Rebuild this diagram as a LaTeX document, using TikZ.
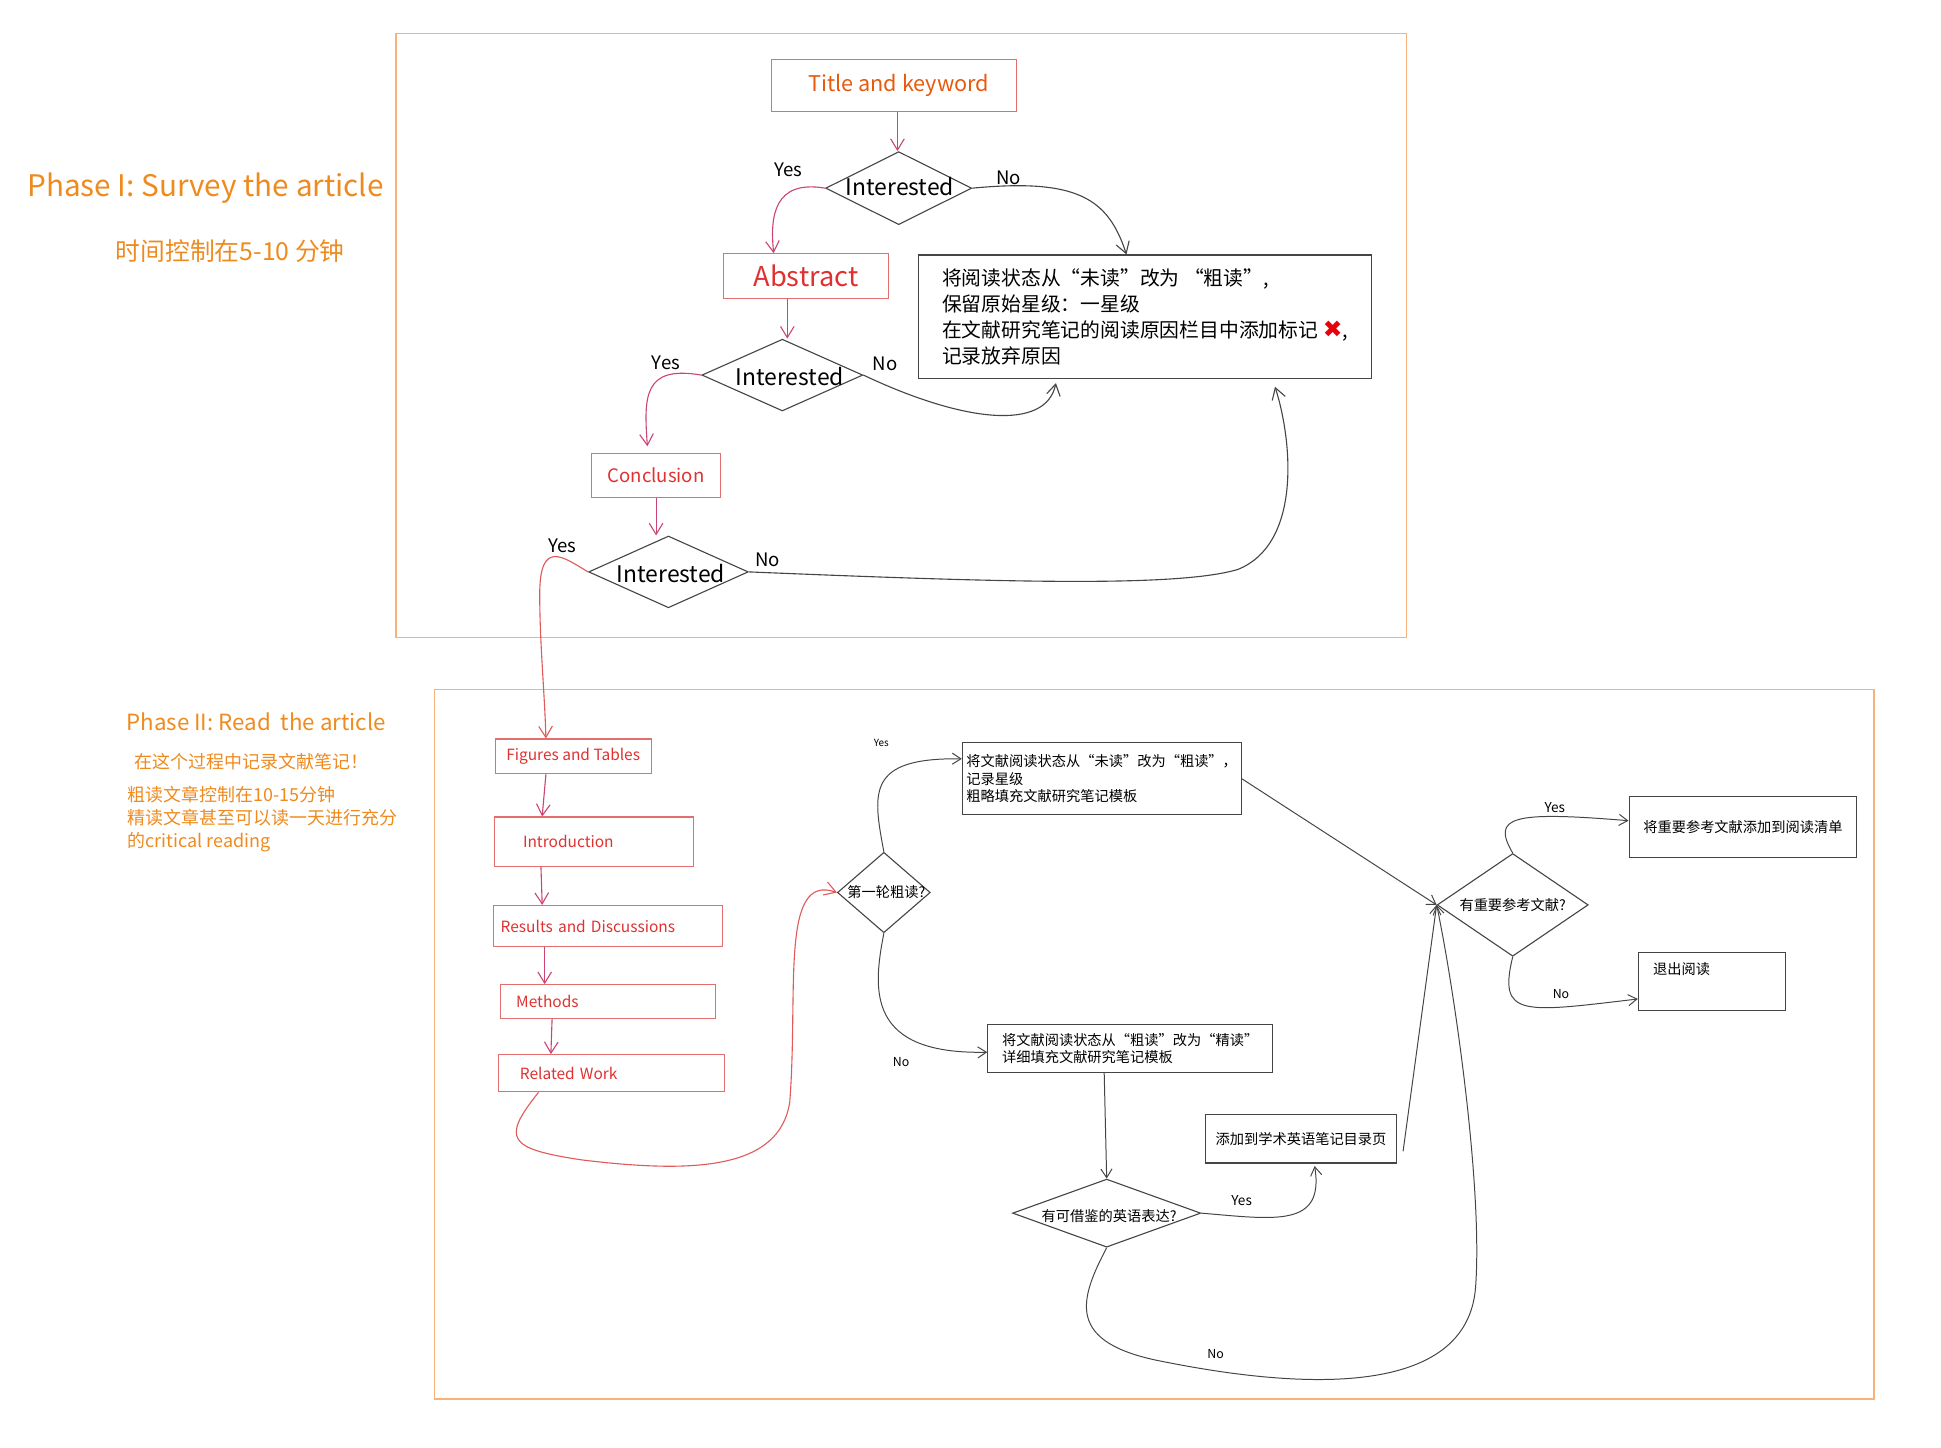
\documentclass[tikz,border=0pt]{standalone}
\usepackage{fontspec}
\setmainfont{Noto Sans CJK SC}
\newfontfamily\symfont{DejaVu Sans}
\usetikzlibrary{shapes.geometric,arrows.meta}

\definecolor{frameorange}{HTML}{F7B27C}
\definecolor{phaseorange}{HTML}{EE8A1E}
\definecolor{boxred}{HTML}{E36E6E}
\definecolor{textred}{HTML}{E03131}
\definecolor{titlered}{HTML}{E8590C}
\definecolor{flowpink}{HTML}{CC4477}
\definecolor{flowred}{HTML}{E05A5A}
\definecolor{linegrey}{HTML}{454545}
\definecolor{crossred}{HTML}{E8000B}

\tikzset{
  phaseframe/.style={draw=frameorange, line width=1.2pt},
  phasetext/.style={text=phaseorange, inner sep=0pt},
  redbox/.style={draw=boxred, line width=0.9pt, text=textred},
  greybox/.style={draw=linegrey, line width=0.9pt, align=left},
  decision/.style={draw=linegrey, shape=diamond, inner sep=0pt, line width=0.9pt},
  pinkflow/.style={draw=flowpink, line width=0.9pt, -{Straight Barb[length=9pt,width=11pt]}},
  redflow/.style={draw=flowred, line width=0.9pt, -{Straight Barb[length=9pt,width=11pt]}},
  greyflow/.style={draw=linegrey, line width=0.9pt, -{Straight Barb[length=9pt,width=11pt]}},
  thinflow/.style={draw=linegrey, line width=0.8pt, -{Straight Barb[length=7pt,width=9pt]}},
  answer/.style={font=\fontsize{15pt}{18pt}\selectfont, inner sep=0pt},
  smallanswer/.style={font=\fontsize{10pt}{12pt}\selectfont, inner sep=0pt},
  bigask/.style={font=\fontsize{18.5pt}{22pt}\selectfont, inner sep=0pt},
  smallask/.style={font=\fontsize{11.5pt}{14pt}\selectfont, inner sep=0pt},
  partbox/.style={redbox, font=\fontsize{12.5pt}{15pt}\selectfont, align=left},
  notebox/.style={greybox, font=\fontsize{11.5pt}{14pt}\selectfont}
}

\begin{document}
\begin{tikzpicture}[x=1pt,y=-1pt]
	\useasboundingbox (0,0) rectangle (1568,1169);

	% the two phases
	\node[phaseframe, minimum width=816pt, minimum height=488pt] (surveyframe) at (728,271) {};
	\node[phaseframe, minimum width=1163pt, minimum height=573pt] (readframe) at (932.5,843.5) {};

	\node[phasetext, font=\fontsize{24pt}{28pt}\selectfont] (surveytitle) at (166,152) {Phase I: Survey the article};
	\node[phasetext, font=\fontsize{20pt}{24pt}\selectfont] (surveytime) at (186,203) {时间控制在5-10 分钟};
	\node[phasetext, font=\fontsize{18pt}{21pt}\selectfont] (readtitle) at (207,583) {Phase II: Read\ \ the article};
	\node[phasetext, font=\fontsize{14.5pt}{17pt}\selectfont] (readnote) at (203,615) {在这个过程中记录文献笔记！};
	\node[phasetext, font=\fontsize{14.5pt}{18.5pt}\selectfont, align=left, anchor=north west] (readtime) at (103,635)
		{粗读文章控制在10-15分钟\\精读文章甚至可以读一天进行充分\\的critical reading};

	% phase I: survey
	\node[redbox, text=titlered, minimum width=198pt, minimum height=42pt, font=\fontsize{17.5pt}{20pt}\selectfont] (title) at (722,69) {\hspace*{8pt}Title and keyword};
	\node[decision, minimum width=118pt, minimum height=59pt] (ask1) at (726,152) {};
	\node[bigask] (ask1text) at (727,151) {Interested};
	\node[redbox, minimum width=133pt, minimum height=36pt, font=\fontsize{22pt}{26pt}\selectfont] (abstract) at (651,223) {Abstract};
	\node[greybox, minimum width=366pt, minimum height=100pt, font=\fontsize{16pt}{21pt}\selectfont] (giveup) at (925,256)
		{将阅读状态从“未读”改为 “粗读”,\\保留原始星级：一星级\\在文献研究笔记的阅读原因栏目中添加标记 {\symfont\fontsize{19pt}{19pt}\selectfont\textcolor{crossred}{✖}},\\记录放弃原因};
	\node[decision, minimum width=130pt, minimum height=58pt] (ask2) at (632,303) {};
	\node[bigask] (ask2text) at (638,304) {Interested};
	\node[redbox, minimum width=104pt, minimum height=36pt, font=\fontsize{15pt}{18pt}\selectfont] (conclusion) at (530,384) {Conclusion};
	\node[decision, minimum width=129pt, minimum height=58pt] (ask3) at (540,462) {};
	\node[bigask] (ask3text) at (542,463) {Interested};

	\draw[pinkflow] ([xshift=3pt]title.south) -- ([xshift=3pt]title.south |- ask1.north);
	\draw[pinkflow] (ask1.west) .. controls (625,145) and (622,175) .. ([xshift=-26pt]abstract.north);
	\draw[greyflow] (ask1.east) .. controls (870,144) and (895,160) .. ([xshift=-15pt]giveup.north);
	\draw[pinkflow] ([xshift=-15pt]abstract.south) -- ([xshift=-15pt]abstract.south |- ask2.north);
	\draw[pinkflow] (ask2.west) .. controls (520,295) and (520,320) .. ([xshift=-7pt,yshift=5pt]conclusion.north);
	\draw[greyflow] (ask2.east) .. controls (780,342) and (845,348) .. ([xshift=-72pt,yshift=-3pt]giveup.south);
	\draw[pinkflow] (conclusion.south) -- (conclusion.south |- ask3.north);
	\draw[greyflow] (ask3.east) .. controls (800,470) and (950,475) .. (1000,460)
		.. controls (1050,440) and (1045,360) .. ([xshift=105pt,yshift=-6pt]giveup.south);

	\node[answer] (yes1) at (637,137) {Yes};
	\node[answer] (no1) at (815,144) {No};
	\node[answer] (yes2) at (538,293) {Yes};
	\node[answer] (no2) at (715,294) {No};
	\node[answer] (yes3) at (454,441) {Yes};
	\node[answer] (no3) at (620,452) {No};

	% phase II: read
	\node[partbox, minimum width=126pt, minimum height=28pt] (figures) at (463,611) {Figures and Tables};
	\node[partbox, minimum width=161pt, minimum height=40pt, text width=115pt, inner xsep=23pt] (intro) at (480,680) {Introduction};
	\node[partbox, minimum width=185pt, minimum height=33pt, text width=173pt, inner xsep=6pt] (results) at (491,748) {Results and Discussions};
	\node[partbox, minimum width=174pt, minimum height=27pt, text width=148pt, inner xsep=13pt] (methods) at (491,809) {Methods};
	\node[partbox, minimum width=182pt, minimum height=30pt, text width=148pt, inner xsep=17pt] (related) at (494,867) {Related Work};

	\draw[redflow] (ask3.west) .. controls (455,450) and (436,435) .. (436,480)
		.. controls (436,520) and (440,560) .. ([xshift=-22pt]figures.north);
	\draw[pinkflow] ([xshift=-22pt]figures.south) -- ([xshift=-42pt]intro.north);
	\draw[pinkflow] ([xshift=-43pt]intro.south) -- ([xshift=-53pt]results.north);
	\draw[pinkflow] ([xshift=-51pt]results.south) -- ([xshift=-51pt]methods.north);
	\draw[pinkflow] ([xshift=-45pt]methods.south) -- ([xshift=-49pt]related.north);

	\node[decision, minimum width=75pt, minimum height=65pt] (round1) at (714,721) {};
	\node[smallask] (round1text) at (716,721) {第一轮粗读?};
	\node[notebox, minimum width=224pt, minimum height=58pt] (skim) at (890,629)
		{将文献阅读状态从“未读”改为“粗读”，\\记录星级\\粗略填充文献研究笔记模板};
	\node[notebox, minimum width=230pt, minimum height=39pt] (close) at (913,847)
		{将文献阅读状态从“粗读”改为“精读”\\详细填充文献研究笔记模板};
	\node[decision, minimum width=152pt, minimum height=55pt] (phrase) at (894,980) {};
	\node[smallask] (phrasetext) at (896,982) {有可借鉴的英语表达?};
	\node[notebox, minimum width=154pt, minimum height=39pt] (english) at (1051,920) {添加到学术英语笔记目录页};
	\node[decision, minimum width=122pt, minimum height=83pt] (refs) at (1222,731) {};
	\node[smallask] (refstext) at (1222,731) {有重要参考文献?};
	\node[notebox, minimum width=184pt, minimum height=49pt] (readlist) at (1408,668) {将重要参考文献添加到阅读清单};
	\node[notebox, minimum width=119pt, minimum height=47pt, text width=95pt, inner xsep=12pt] (quit) at (1383,793) {退出阅读\\[8pt]\mbox{}};

	\draw[redflow] ([xshift=-59pt]related.south) .. controls (405,920) and (410,928) .. (470,937)
		.. controls (560,948) and (630,945) .. (638,890)
		.. controls (645,800) and (630,705) .. (round1.west);
	\draw[thinflow] (round1.north) .. controls (705,640) and (700,612) .. ([yshift=16pt]skim.west);
	\draw[thinflow] (round1.south) .. controls (705,800) and (700,852) .. ([yshift=-3pt]close.west);
	\draw[thinflow] (skim.east) -- (refs.west);
	\draw[thinflow] ([xshift=-21pt]close.south) -- (phrase.north);
	\draw[thinflow] (phrase.east) .. controls (1030,985) and (1070,992) .. ([xshift=11pt,yshift=-2pt]english.south);
	\draw[thinflow] ([xshift=5pt,yshift=-10pt]english.east) -- (refs.west);
	\draw[thinflow] (phrase.south) .. controls (872,1050) and (860,1085) .. (940,1100)
		.. controls (1050,1122) and (1185,1130) .. (1192,1040)
		.. controls (1198,960) and (1175,800) .. (refs.west);
	\draw[thinflow] (refs.north) .. controls (1205,660) and (1220,655) .. ([yshift=5pt]readlist.west);
	\draw[thinflow] (refs.south) .. controls (1210,822) and (1230,818) .. ([yshift=-14pt]quit.west);

	\node[inner sep=0pt, font=\fontsize{8pt}{10pt}\selectfont] (yes4) at (712,600) {Yes};
	\node[smallanswer] (no4) at (728,858) {No};
	\node[smallanswer, font=\fontsize{11pt}{13pt}\selectfont] (yes5) at (1003,970) {Yes};
	\node[smallanswer] (no5) at (982,1094) {No};
	\node[smallanswer, font=\fontsize{11pt}{13pt}\selectfont] (yes6) at (1256,652) {Yes};
	\node[smallanswer] (no6) at (1261,803) {No};
\end{tikzpicture}
\end{document}
